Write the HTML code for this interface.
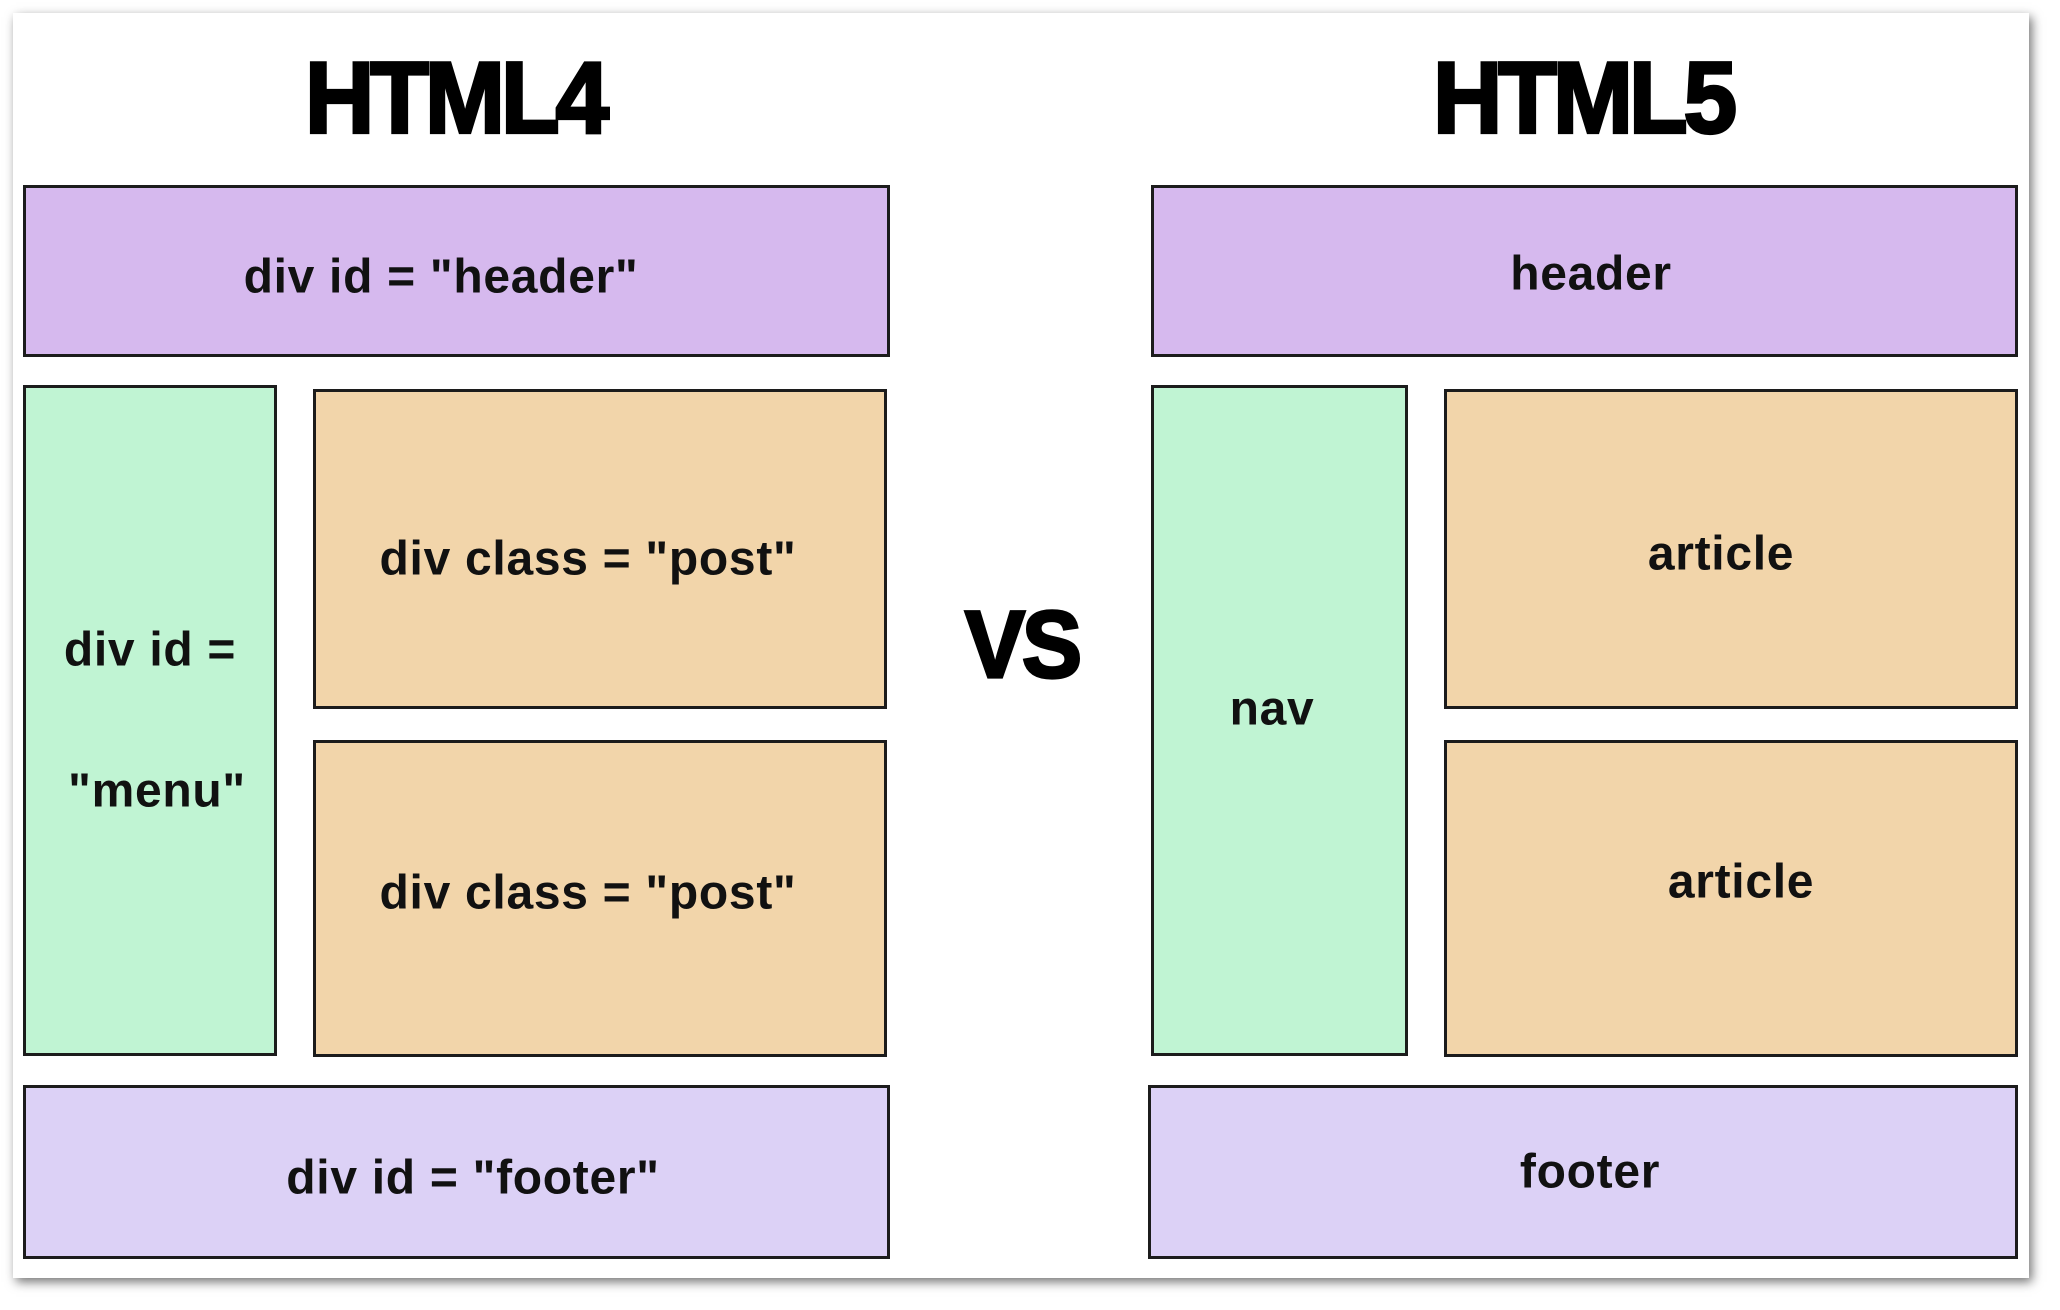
<!DOCTYPE html>
<html><head><meta charset="utf-8"><style>
body{margin:0;width:2060px;height:1310px;background:#fff;position:relative;overflow:hidden;font-family:"Liberation Sans",sans-serif}
.card{position:absolute;left:13px;top:13px;width:2016px;height:1265px;background:#fff;box-shadow:3px 4px 10px rgba(0,0,0,.55)}
.b{position:absolute;box-sizing:border-box;border:3px solid #1c1c1c}
.t{position:absolute;transform:translate(-50%,-50%);white-space:nowrap;font-weight:bold;font-size:48px;color:#111;letter-spacing:0.7px}
.h{position:absolute;transform:translate(-50%,-50%) scaleY(1.05);font-weight:900;font-size:96px;color:#000;-webkit-text-stroke:3px #000;letter-spacing:-4px}
.p{background:#d6b9ee}.f{background:#dcd1f6}.g{background:#c0f4d3}.o{background:#f2d5aa}
</style></head><body>
<div class="card"></div>
<div class="h" style="left:455px;top:99px">HTML4</div>
<div class="h" style="left:1583px;top:99px">HTML5</div>
<div class="h" style="left:1022px;top:646px;font-size:90px;letter-spacing:-3px">VS</div>

<div class="b p" style="left:23px;top:185px;width:867px;height:172px"></div>
<div class="b g" style="left:23px;top:385px;width:254px;height:671px"></div>
<div class="b o" style="left:313px;top:389px;width:574px;height:320px"></div>
<div class="b o" style="left:313px;top:740px;width:574px;height:317px"></div>
<div class="b f" style="left:23px;top:1085px;width:867px;height:174px"></div>

<div class="b p" style="left:1151px;top:185px;width:867px;height:172px"></div>
<div class="b g" style="left:1151px;top:385px;width:257px;height:671px"></div>
<div class="b o" style="left:1444px;top:389px;width:574px;height:320px"></div>
<div class="b o" style="left:1444px;top:740px;width:574px;height:317px"></div>
<div class="b f" style="left:1148px;top:1085px;width:870px;height:174px"></div>

<div class="t" style="left:441px;top:277px">div id = "header"</div>
<div class="t" style="left:150px;top:650px">div id =</div>
<div class="t" style="left:157px;top:791px">"menu"</div>
<div class="t" style="left:588px;top:559px">div class = "post"</div>
<div class="t" style="left:588px;top:893px">div class = "post"</div>
<div class="t" style="left:473px;top:1178px">div id = "footer"</div>

<div class="t" style="left:1591px;top:274px">header</div>
<div class="t" style="left:1272px;top:709px">nav</div>
<div class="t" style="left:1721px;top:554px">article</div>
<div class="t" style="left:1741px;top:882px">article</div>
<div class="t" style="left:1590px;top:1172px">footer</div>
</body></html>
